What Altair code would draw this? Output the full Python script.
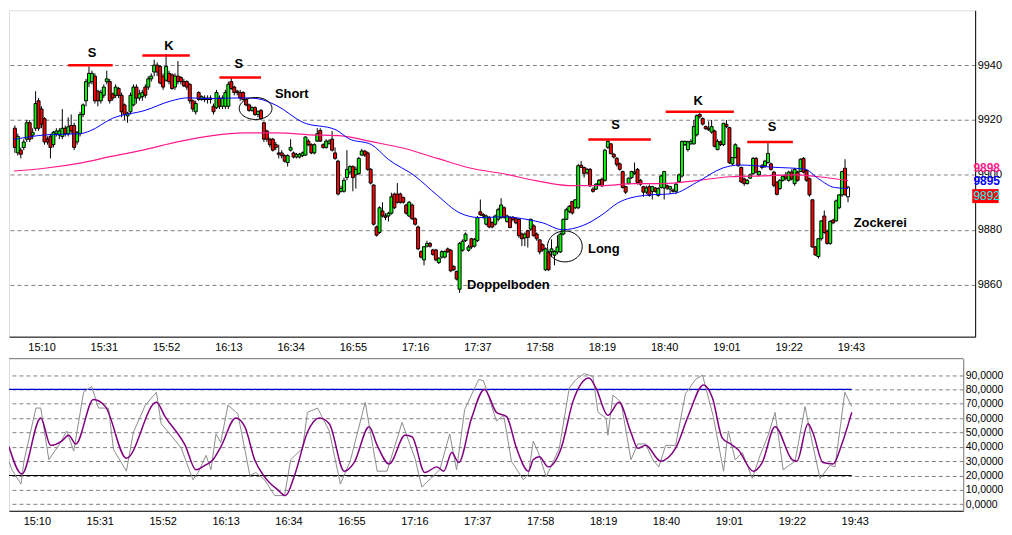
import altair as alt
import pandas as pd

# ---------------- candle data (1-minute bars, minute 1 = 15:01) ----------------
OPEN = [
    9917, 9908, 9909, 9910, 9913, 9919, 9914.5, 9917, 9927, 9924,
    9920.5, 9913, 9914, 9911, 9915, 9914.5, 9914, 9917, 9915, 9918,
    9918, 9912, 9915, 9922, 9927, 9933.5, 9934, 9936, 9930.5, 9927,
    9929, 9934, 9934, 9929.5, 9929, 9931.5, 9929, 9925.5, 9921.5, 9923,
    9925.5, 9932, 9928, 9928.5, 9932, 9932, 9935, 9937.5, 9940, 9939.5,
    9936, 9934.5, 9937, 9936.5, 9932, 9936, 9935.5, 9934, 9934, 9933,
    9927, 9923, 9930, 9927.5, 9928, 9928, 9928, 9925, 9924.5, 9928,
    9925, 9925, 9925, 9934, 9932, 9930.5, 9930, 9930, 9927.5, 9925.5,
    9923.5, 9924.5, 9922, 9923.5, 9919, 9916, 9913, 9913, 9911, 9908,
    9908, 9907, 9904.5, 9909, 9908, 9906.5, 9906.5, 9907, 9907.2, 9912.3,
    9911, 9908, 9912.3, 9916.2, 9911, 9910, 9911.5, 9913, 9908, 9905,
    9894, 9894, 9899, 9901, 9903, 9900, 9900.5, 9907.2, 9908.7, 9908,
    9902, 9896.3, 9881, 9879, 9886.8, 9885, 9885, 9886, 9893, 9893,
    9893, 9891.8, 9889, 9885, 9889, 9884, 9881, 9872, 9869, 9874,
    9875, 9872.6, 9872.6, 9868, 9870, 9870, 9873, 9872.5, 9866.6, 9864.8,
    9858.3, 9872.5, 9876, 9872.5, 9876.7, 9874, 9876, 9886.5, 9885.5, 9882,
    9884.4, 9882.6, 9882, 9883.8, 9884.4, 9888, 9883, 9884.4, 9884.5, 9884,
    9883.8, 9878.4, 9877, 9879.6, 9880.2, 9881.4, 9878.4, 9876.3, 9874.5, 9865.4,
    9871.9, 9872, 9870.7, 9871.9, 9871.9, 9878.4, 9883.8, 9886.7, 9890.3, 9888,
    9888, 9903.5, 9902.7, 9900.8, 9902, 9894.8, 9894.8, 9896.6, 9898.4, 9898,
    9910, 9911.3, 9907.5, 9906, 9904, 9901.2, 9895.7, 9896.9, 9899, 9900.5,
    9902, 9898, 9895.7, 9893.7, 9895.7, 9894, 9895.2, 9892.5, 9895.4, 9895.2,
    9896, 9894.8, 9894.4, 9894, 9897.6, 9899.6, 9911, 9909.2, 9911.3, 9911.3,
    9914.6, 9922, 9920.5, 9917.6, 9917, 9915.6, 9916, 9909.2, 9912, 9911,
    9918.4, 9917.2, 9904, 9906.3, 9909.8, 9902.7, 9898.5, 9896.8, 9898.8, 9900.4,
    9906, 9900, 9903.3, 9903.3, 9904.5, 9904, 9901, 9897.4, 9895, 9898,
    9899.8, 9898, 9901, 9896.8, 9901, 9901.2, 9906, 9901.5, 9898.6, 9890.9,
    9873.7, 9870.2, 9876.7, 9885, 9879.4, 9875, 9883.5, 9883.2, 9888, 9892.7,
    9902.4, 9895.5,
]
CLOSE = [
    9910, 9914, 9907.5, 9912, 9919, 9913, 9915.5, 9926, 9917, 9918.5,
    9912, 9912, 9910, 9915.5, 9916, 9916, 9917, 9915, 9917.5, 9916,
    9910, 9915.5, 9922, 9925.5, 9934, 9937, 9937, 9927, 9927, 9930,
    9932, 9935, 9927, 9928, 9932, 9929, 9923, 9922, 9922.5, 9929,
    9932, 9928, 9929.5, 9930, 9929, 9935, 9936, 9940, 9937.5, 9933.5,
    9932, 9939.5, 9934, 9931.5, 9936, 9934, 9934, 9932.5, 9932, 9927,
    9924, 9926, 9927.5, 9928.5, 9927.5, 9927.5, 9927.5, 9923, 9930, 9925,
    9928, 9930, 9933, 9931.5, 9930, 9930, 9928, 9927.5, 9925.5, 9923.5,
    9924.5, 9922, 9923, 9920.5, 9913, 9913, 9911, 9909, 9910, 9907.5,
    9907, 9905, 9907, 9910, 9906.5, 9907.5, 9907.5, 9908, 9913.8, 9911,
    9908, 9911, 9915, 9912.3, 9910, 9912.3, 9912.3, 9909, 9906, 9893,
    9895, 9898, 9902, 9903, 9899, 9902, 9906, 9908.7, 9907.2, 9902,
    9897, 9882, 9878, 9888, 9885, 9884.5, 9886, 9892, 9888, 9890,
    9890, 9890, 9886, 9890, 9884, 9882, 9873, 9870, 9873.8, 9875,
    9874, 9871, 9869, 9869.6, 9872, 9872, 9872, 9865, 9865.4, 9862,
    9875, 9875.8, 9878.4, 9873.7, 9873.7, 9876.5, 9884.4, 9885.5, 9885, 9885,
    9881, 9881, 9885, 9887.3, 9889, 9884.6, 9885, 9880.8, 9883.8, 9882.5,
    9877.8, 9876.7, 9878.4, 9877.2, 9883.8, 9877.8, 9876.7, 9871.9, 9872.7, 9873,
    9865.4, 9873, 9872, 9873.7, 9878.4, 9883.8, 9887.3, 9888.5, 9886.1, 9890.9,
    9903.3, 9902.7, 9900.5, 9902, 9896, 9894, 9896.6, 9898, 9896, 9909,
    9912.2, 9907.7, 9906.5, 9903.8, 9902, 9895.4, 9893.7, 9898.8, 9901.2, 9901,
    9897.2, 9896.6, 9893.7, 9895.2, 9892.5, 9895.7, 9894, 9895, 9899.6, 9901.2,
    9895.2, 9895.7, 9894, 9896.6, 9900, 9912.2, 9912.2, 9912, 9912.2, 9917.6,
    9921.6, 9921.2, 9918.5, 9916.8, 9916.4, 9917.6, 9910.4, 9912.2, 9911, 9918.8,
    9917.6, 9904.4, 9906.3, 9911, 9903.3, 9897.4, 9896.8, 9898, 9900, 9906,
    9901, 9901.2, 9902.7, 9905, 9907.8, 9902, 9896.2, 9892.9, 9898, 9899.5,
    9898.8, 9901, 9898.5, 9902, 9898, 9905.7, 9901, 9898, 9892.7, 9873.7,
    9870.8, 9876.7, 9883.2, 9879, 9875, 9883, 9882.5, 9890.5, 9892.7, 9901.2,
    9892.7, 9892,
]
HIGH = [
    9918, 9915, 9910, 9913, 9920, 9920, 9917, 9930.5, 9928, 9925,
    9921, 9914, 9915, 9916, 9917, 9917, 9924, 9918, 9921, 9922,
    9919, 9916, 9923, 9926, 9935, 9939.5, 9938, 9937, 9931, 9931,
    9933, 9938, 9935, 9930, 9933, 9932, 9930, 9926, 9923, 9930,
    9933, 9933, 9931, 9931, 9933, 9936, 9937, 9942, 9941, 9940,
    9937, 9944, 9938, 9937, 9937, 9941.5, 9936, 9935, 9934.5, 9933.5,
    9927.5, 9927, 9930.5, 9929, 9929, 9929, 9929, 9926, 9931, 9929,
    9929, 9931, 9934, 9935.5, 9932.5, 9931, 9931, 9930.5, 9928, 9926,
    9925, 9925, 9923.5, 9924, 9919.5, 9916.5, 9913.5, 9913.5, 9912, 9911,
    9909, 9907.5, 9907.5, 9913, 9908.5, 9908, 9908, 9908.5, 9914, 9913,
    9911.5, 9911.5, 9917, 9917, 9911.5, 9913, 9913, 9916, 9910, 9905.5,
    9896, 9899, 9909, 9903.5, 9903.5, 9903, 9906.5, 9909.5, 9909, 9908.5,
    9902.5, 9896.5, 9881.5, 9888.5, 9890, 9886, 9886.5, 9893.5, 9893.5, 9897,
    9893.5, 9892, 9889.5, 9890.5, 9889.5, 9884.5, 9881.5, 9872.5, 9874, 9876,
    9875.5, 9873, 9873, 9870, 9872.5, 9872.5, 9873.5, 9873, 9867, 9865,
    9875.5, 9876.5, 9879, 9874.5, 9877, 9877, 9885, 9891, 9886, 9885.5,
    9885, 9883, 9885.5, 9888, 9891.5, 9888.5, 9885.5, 9885, 9885, 9884.5,
    9884, 9879, 9879, 9880, 9884, 9882, 9879, 9876.5, 9875, 9873.5,
    9872, 9876.5, 9872.5, 9878, 9879, 9884, 9888, 9889, 9890.5, 9891,
    9904, 9905, 9903, 9902.5, 9902.5, 9895.5, 9897, 9898.5, 9899, 9909.5,
    9913, 9911.5, 9908, 9906.5, 9904.5, 9901.5, 9896, 9899, 9901.5, 9904.5,
    9902.5, 9898.5, 9896, 9896, 9896.5, 9896, 9895.5, 9895.5, 9900, 9901.5,
    9896.5, 9896, 9895, 9897, 9900.5, 9912.5, 9912.5, 9912.5, 9913, 9920,
    9922, 9923, 9921, 9918, 9919.5, 9920, 9916.5, 9913, 9912.5, 9919,
    9920, 9917.5, 9906.5, 9911.5, 9910, 9903, 9899, 9898.5, 9900.5, 9906.5,
    9906.5, 9901.5, 9904, 9905.5, 9912.2, 9904.5, 9901.5, 9897.5, 9898.5, 9900,
    9901, 9901.5, 9902, 9902.5, 9901.5, 9906, 9906.5, 9902, 9899, 9891,
    9874, 9877, 9883.5, 9887, 9880, 9883.5, 9884, 9891, 9893, 9901.5,
    9905.7, 9896,
]
LOW = [
    9908, 9907, 9906, 9909, 9912, 9912, 9913, 9916, 9916, 9917,
    9911, 9911, 9906, 9910, 9914, 9913, 9913, 9914, 9914, 9915,
    9909, 9911, 9914, 9921, 9925, 9932, 9933, 9926, 9925, 9926,
    9928, 9933, 9926, 9927, 9928, 9928, 9921, 9920, 9919, 9922,
    9925, 9926, 9927, 9927, 9928, 9931, 9934, 9936, 9936, 9933,
    9931, 9934, 9933, 9931, 9931, 9933, 9933, 9932, 9931, 9926,
    9923, 9922, 9927, 9927, 9926.5, 9926, 9926, 9922, 9924, 9924,
    9924, 9924, 9924, 9931, 9929, 9929, 9927, 9927, 9925, 9923,
    9923, 9921.5, 9921, 9920, 9912, 9912, 9910, 9908.5, 9909, 9906,
    9906, 9904.5, 9903, 9908.5, 9906, 9906, 9906, 9906.5, 9907, 9910.5,
    9907.5, 9907.5, 9912, 9912, 9909.5, 9909.5, 9911, 9908.5, 9905.5, 9892.5,
    9893.5, 9893.5, 9898, 9900, 9894, 9895, 9900, 9907, 9906.5, 9901.5,
    9896.5, 9881.5, 9877.5, 9878.5, 9884.5, 9883.5, 9883, 9885.5, 9887.5, 9889.5,
    9889.5, 9889.5, 9885.5, 9884.5, 9883.5, 9881.5, 9872.5, 9869.5, 9867, 9873.5,
    9873.5, 9870.5, 9868.5, 9867.5, 9869.5, 9869.5, 9871.5, 9864.5, 9865, 9861.5,
    9857, 9872, 9875.5, 9872, 9873, 9873.5, 9875.5, 9885, 9884, 9881.5,
    9880.5, 9880.5, 9881.5, 9883, 9884, 9884, 9882.5, 9880.5, 9883, 9882,
    9877, 9874, 9874, 9873.5, 9879.5, 9877.5, 9876, 9871, 9872, 9865,
    9865, 9870, 9867, 9871, 9871.5, 9878, 9883.5, 9886, 9885.5, 9887.5,
    9887.5, 9902.5, 9899, 9900, 9895.5, 9893.5, 9894.5, 9896, 9895.5, 9897.5,
    9909.5, 9907.5, 9906, 9903, 9901.5, 9895, 9893, 9896.5, 9898.5, 9900,
    9896.5, 9896, 9892, 9893, 9892, 9891, 9893.5, 9892, 9895, 9891,
    9894.5, 9893, 9893.5, 9893, 9897.5, 9899, 9910.5, 9908.5, 9911, 9911,
    9914, 9920.5, 9918, 9916.5, 9916, 9915, 9910, 9909, 9910.5, 9910.5,
    9917, 9904, 9903.5, 9906, 9903, 9897, 9896, 9896.5, 9898.5, 9900,
    9900.5, 9899.5, 9902, 9902.5, 9904, 9901.5, 9895.5, 9892.5, 9894.5, 9897.5,
    9898, 9897.5, 9898, 9896, 9897.5, 9901, 9900.5, 9897.5, 9892, 9873.5,
    9870.5, 9869.5, 9876, 9878.5, 9874.5, 9874.5, 9882, 9883, 9887.5, 9892,
    9892.5, 9890,
]

# ---------------- moving averages (minute, price) ----------------
BLUE_M = [0.7, 11.7, 23.0, 26.3, 33.9, 44.9, 53.8, 59.5, 67.1, 78.1, 82.7, 89.4, 98.0,
          109.3, 113.6, 121.3, 126.9, 135.9, 143.5, 151.1, 157.8, 165.8, 174.4, 179.0,
          185.7, 192.3, 199.0, 204.3, 213.3, 223.2, 230.9, 239.8, 245.5, 256.4, 267.4,
          272.0, 277.4, 282.0]
BLUE_P = [9912.9, 9914.6, 9915.0, 9916.0, 9920.6, 9923.5, 9927.0, 9928.1, 9927.8, 9928.1,
          9927.8, 9925.2, 9919.2, 9916.4, 9913.2, 9911.0, 9905.7, 9899.6, 9892.5, 9886.1,
          9884.4, 9884.7, 9883.6, 9882.5, 9880.0, 9881.4, 9885.4, 9889.7, 9892.5, 9893.2,
          9897.2, 9902.5, 9903.6, 9902.8, 9902.1, 9898.6, 9895.4, 9895.0]
PINK_M = [0.7, 11.7, 23.0, 33.9, 44.9, 56.2, 67.1, 78.1, 89.4, 100.3, 111.3, 121.3, 132.5,
          143.5, 154.5, 165.8, 176.7, 187.7, 199.0, 209.9, 219.9, 230.9, 242.2, 253.1,
          264.1, 272.0, 282.0]
PINK_P = [9901.4, 9902.5, 9904.3, 9906.8, 9909.2, 9912.1, 9914.2, 9915.3, 9915.3, 9914.6,
          9914.2, 9912.1, 9909.6, 9906.0, 9902.5, 9900.4, 9897.9, 9896.1, 9896.1, 9896.8,
          9896.8, 9897.9, 9899.3, 9899.6, 9900.0, 9899.3, 9897.9]

# ---------------- stochastic ----------------
K_M = [0.7, 1.7, 4.7, 5.7, 9.7, 11.3, 14.0, 17.3, 20.0, 22.3, 25.6, 28.3, 30.6, 33.9, 35.6,
       39.9, 42.2, 46.2, 49.9, 51.5, 54.8, 58.2, 62.1, 63.8, 66.5, 68.1, 69.8, 71.4, 73.8,
       77.1, 81.1, 83.1, 86.0, 89.4, 92.7, 94.7, 98.7, 100.3, 103.7, 107.6, 111.3, 114.6,
       119.6, 123.6, 126.9, 131.9, 136.2, 138.5, 144.5, 147.8, 150.1, 152.8, 157.5, 159.1,
       163.4, 165.8, 166.8, 168.4, 172.4, 174.1, 175.7, 177.4, 180.0, 184.4, 187.7, 190.0,
       192.7, 195.6, 197.3, 200.0, 200.6, 202.3, 205.0, 208.3, 210.6, 213.2, 215.6, 217.6,
       219.9, 223.2, 226.5, 229.9, 232.2, 235.8, 239.2, 240.8, 243.1, 245.5, 248.8, 251.4,
       254.1, 256.4, 259.1, 263.1, 266.4, 269.0, 271.4, 274.7, 276.4, 279.7, 282.0]
K_V = [30, 24, 14, 30, 67, 67, 31, 41, 51, 37, 78, 82, 67, 67, 38, 23, 50, 69, 78, 56,
       48, 39, 17, 22, 34, 24, 49, 43, 69, 63, 20, 22, 17, 6, 6, 31, 39, 64, 67, 51,
       14, 30, 71, 23, 23, 57, 32, 12, 24, 49, 24, 66, 87, 86, 58, 62, 50, 30, 17, 21,
       44, 36, 19, 39, 81, 87, 91, 89, 64, 60, 48, 76, 71, 31, 42, 42, 31, 26, 41, 41,
       77, 87, 90, 61, 23, 51, 31, 36, 18, 34, 48, 64, 24, 30, 68, 41, 18, 27, 26, 78, 68]
D_M = [0.7, 5.0, 11.3, 14.6, 18.3, 20.6, 23.0, 28.9, 32.9, 39.9, 49.9, 52.8, 59.5, 63.1,
       66.1, 68.8, 71.4, 76.4, 79.4, 82.7, 86.0, 90.4, 93.0, 96.0, 100.3, 104.3, 107.6,
       112.6, 115.9, 120.9, 123.6, 127.6, 132.9, 135.2, 139.5, 143.5, 145.8, 148.5, 150.8,
       155.1, 159.4, 163.4, 166.8, 170.1, 174.1, 175.7, 177.7, 180.7, 185.0, 189.0, 194.3,
       196.6, 200.6, 204.3, 208.3, 210.6, 213.2, 218.2, 223.2, 227.5, 232.5, 235.5, 238.8,
       241.5, 244.1, 249.1, 252.1, 256.4, 262.1, 263.7, 267.4, 269.0, 272.4, 275.7, 278.7,
       282.0]
D_V = [40, 21, 60, 41, 44, 48, 42, 73, 68, 32, 71, 61, 41, 24, 27, 31, 40, 60, 54, 31,
       19, 10, 6, 20, 50, 60, 56, 23, 29, 54, 41, 28, 48, 47, 22, 26, 23, 36, 29, 60,
       80, 64, 61, 39, 23, 31, 33, 26, 39, 72, 88, 81, 62, 71, 50, 39, 41, 30, 39, 62,
       83, 74, 46, 42, 38, 23, 29, 54, 31, 30, 56, 50, 29, 28, 42, 64]
STO_LEVELS = [20, 80]
STO_LEVEL_COLORS = ["#000000", "#0000cc"]
STO_LEVEL_START = [0.7, 0.7]
STO_LEVEL_END = [282, 282]

# ---------------- annotations ----------------
LEVEL_M1 = [19, 44, 70, 194.4, 220.5, 248]
LEVEL_M2 = [34, 60, 84, 215.5, 243.5, 263.4]
LEVEL_P = [9940, 9943.5, 9935.5, 9912.9, 9923, 9912]
LEVEL_TXT = ["S", "K", "S", "S", "K", "S"]
LEVEL_TXT_M = [27, 53, 76.5, 203.6, 231.5, 256.4]
LEVEL_TXT_P = [9944.5, 9947, 9940.5, 9918, 9927, 9917.4]

NOTE_TXT = ["Short", "Long", "Doppelboden", "Zockerei"]
NOTE_M = [88.7, 194.3, 153.5, 283.9]
NOTE_P = [9929.4, 9873.1, 9860, 9882.6]

SHORT_CIRCLE = {"m": [82.2], "p": [9924.2]}
LONG_CIRCLE = {"m": [186.5], "p": [9873.9]}

VALUE_TXT = ["9898", "9895"]
VALUE_P = [9902.6, 9897.9]
VALUE_COLOR = ["#ff1a8c", "#0000ff"]
LAST_TXT = ["9892"]
LAST_P = [9892.2]
LAST_BOX_M = [323.9, 332.8]
LAST_BOX_P = [9889.7, 9894.8]
LABEL_M = 324.3

TIME_TICKS = [10, 31, 52, 73, 94, 115, 136, 157, 178, 199, 220, 241, 262, 283]
PRICE_TICKS = [9860, 9880, 9900, 9920, 9940]
STO_TICKS = [0, 10, 20, 30, 40, 50, 60, 70, 80, 90]

# ---------------- frames ----------------
candles = pd.DataFrame({"m": list(range(1, len(CLOSE) + 1)), "open": OPEN, "close": CLOSE,
                        "high": HIGH, "low": LOW})
candles["dir"] = ["up" if c > o else "down" for o, c in zip(OPEN, CLOSE)]
candles.loc[candles.index[-1], "dir"] = "live"

blue = pd.DataFrame({"m": BLUE_M, "p": BLUE_P})
pink = pd.DataFrame({"m": PINK_M, "p": PINK_P})
levels = pd.DataFrame({"m1": LEVEL_M1, "m2": LEVEL_M2, "p": LEVEL_P})
letters = pd.DataFrame({"m": LEVEL_TXT_M, "p": LEVEL_TXT_P, "t": LEVEL_TXT})
notes = pd.DataFrame({"m": NOTE_M, "p": NOTE_P, "t": NOTE_TXT})
vals = pd.DataFrame({"m": [LABEL_M] * len(VALUE_TXT), "p": VALUE_P, "t": VALUE_TXT, "c": VALUE_COLOR})
lastlab = pd.DataFrame({"m": [LABEL_M], "p": LAST_P, "t": LAST_TXT})
lastbox = pd.DataFrame({"m1": [LAST_BOX_M[0]], "m2": [LAST_BOX_M[1]],
                        "p1": [LAST_BOX_P[0]], "p2": [LAST_BOX_P[1]]})
kdf = pd.DataFrame({"m": K_M, "v": K_V})
ddf = pd.DataFrame({"m": D_M, "v": D_V})
sto_lv = pd.DataFrame({"m1": STO_LEVEL_START, "m2": STO_LEVEL_END, "v": STO_LEVELS,
                       "c": STO_LEVEL_COLORS})

FONT = "Liberation Sans"
time_expr = "timeFormat(datetime(2000, 0, 1, 15, datum.value), '%H:%M')"

X_MAIN = alt.Scale(domain=[0.7, 323.2], nice=False, zero=False)
Y_MAIN = alt.Scale(domain=[9841, 9960], nice=False, zero=False)
X_STO = alt.Scale(domain=[0.7, 319.2], nice=False, zero=False)
Y_STO = alt.Scale(domain=[-4.6, 101.5], nice=False, zero=False)

AX_X = alt.Axis(values=TIME_TICKS, labelExpr=time_expr, title=None, grid=False, ticks=False,
                domain=True, domainColor="black", labelFontSize=11, labelColor="black",
                labelPadding=5, labelFont=FONT, labelFlush=False)
AX_MAIN_Y = alt.Axis(orient="right", values=PRICE_TICKS, format="d", title=None, grid=True,
                     gridColor="#808080", gridDash=[4, 3], ticks=False, domain=True,
                     domainColor="black", labelFontSize=11, labelColor="black",
                     labelPadding=2, labelFont=FONT)
AX_STO_Y = alt.Axis(orient="right", values=STO_TICKS,
                    labelExpr="replace(format(datum.value, '.4f'), '.', ',')", title=None,
                    grid=True, gridColor="#808080", gridDash=[4, 3], ticks=False, domain=True,
                    domainColor="#808080", labelFontSize=10.5, labelColor="black",
                    labelPadding=2, labelFont=FONT)


def mx(f):
    return alt.X(f, type="quantitative", scale=X_MAIN, axis=AX_X)


def my(f):
    return alt.Y(f, type="quantitative", scale=Y_MAIN, axis=AX_MAIN_Y)


def sx(f):
    return alt.X(f, type="quantitative", scale=X_STO, axis=AX_X)


def sy(f):
    return alt.Y(f, type="quantitative", scale=Y_STO, axis=AX_STO_Y)


base = alt.Chart(candles)
wicks = base.mark_rule(color="black", strokeWidth=1, clip=True).encode(
    x=mx("m"), y=my("low"), y2="high")
bodies = base.mark_bar(size=3, stroke="black", strokeWidth=1, clip=True).encode(
    x=mx("m"), y=my("open"), y2="close",
    color=alt.Color("dir:N", scale=alt.Scale(domain=["up", "down", "live"],
                                             range=["#00ff00", "#ff0000", "#ffffff"]),
                    legend=None))
pink_line = alt.Chart(pink).mark_line(color="#ff1a8c", strokeWidth=1.2, clip=True,
                                      interpolate="monotone").encode(x=mx("m"), y=my("p"))
blue_line = alt.Chart(blue).mark_line(color="#0000ff", strokeWidth=1, clip=True,
                                      interpolate="monotone").encode(x=mx("m"), y=my("p"))
level_rules = alt.Chart(levels).mark_rule(color="#ff0000", strokeWidth=2.5).encode(
    x=mx("m1"), x2="m2", y=my("p"))
level_text = alt.Chart(letters).mark_text(font=FONT, fontSize=13, fontWeight="bold",
                                          color="black").encode(x=mx("m"), y=my("p"), text="t:N")
note_text = alt.Chart(notes).mark_text(font=FONT, fontSize=13, fontWeight="bold",
                                       color="black", align="left").encode(
    x=mx("m"), y=my("p"), text="t:N")
short_circle = alt.Chart(pd.DataFrame(SHORT_CIRCLE)).mark_point(
    shape="M-1,0A1,0.67,0,1,0,1,0A1,0.67,0,1,0,-1,0Z", size=1089, filled=False,
    color="black", strokeWidth=1, opacity=1).encode(x=mx("m"), y=my("p"))
long_circle = alt.Chart(pd.DataFrame(LONG_CIRCLE)).mark_point(
    shape="M-1,0A1,0.89,0,1,0,1,0A1,0.89,0,1,0,-1,0Z", size=1225, filled=False,
    color="black", strokeWidth=1, opacity=1).encode(x=mx("m"), y=my("p"))
val_text = alt.Chart(vals).mark_text(font=FONT, fontSize=12, fontWeight="bold",
                                     align="left").encode(
    x=mx("m"), y=my("p"), text="t:N", color=alt.Color("c:N", scale=None))
last_box = alt.Chart(lastbox).mark_rect(color="#ff0000").encode(
    x=mx("m1"), x2="m2", y=my("p1"), y2="p2")
last_text = alt.Chart(lastlab).mark_text(font=FONT, fontSize=12, color="#00ffff",
                                         align="left").encode(x=mx("m"), y=my("p"), text="t:N")

main = alt.layer(wicks, bodies, pink_line, blue_line, level_rules, level_text, note_text,
                 short_circle, long_circle, val_text, last_box, last_text).properties(
    width=971, height=328)

top_border = alt.Chart(pd.DataFrame({"a": [0]})).mark_rule(color="#808080").encode(
    y=alt.value(0))
sto_rules = alt.Chart(sto_lv).mark_rule(strokeWidth=1.2, clip=True).encode(
    x=sx("m1"), x2="m2", y=sy("v"), color=alt.Color("c:N", scale=None))
k_line = alt.Chart(kdf).mark_line(color="#8c8c8c", strokeWidth=1, clip=True).encode(
    x=sx("m"), y=sy("v"))
d_line = alt.Chart(ddf).mark_line(color="#800080", strokeWidth=1.5, clip=True,
                                  interpolate="monotone").encode(x=sx("m"), y=sy("v"))
sto = alt.layer(sto_rules, k_line, d_line, top_border).properties(width=959, height=153)

chart = alt.vconcat(main, sto, spacing=4, padding=0).configure_view(stroke=None).configure(
    font=FONT, background="white")

chart.save("out.html", embed_options={"renderer": "svg", "actions": False})
